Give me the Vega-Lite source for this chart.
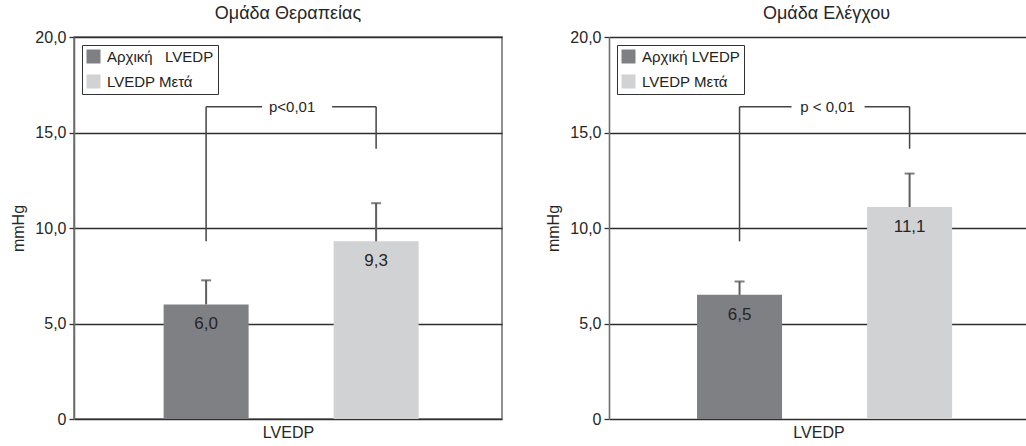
{
  "$schema": "https://vega.github.io/schema/vega-lite/v6.json",
  "background": "white",
  "padding": {"left": 10, "top": 4, "right": 0, "bottom": 2},
  "bounds": "flush",
  "spacing": 107,
  "datasets": {
    "bars": [
      {"panel": "Θεραπεία", "series": "Αρχική LVEDP", "mean": 6.0, "upper": 7.26},
      {"panel": "Θεραπεία", "series": "LVEDP Μετά", "mean": 9.3, "upper": 11.3},
      {"panel": "Έλεγχος", "series": "Αρχική LVEDP", "mean": 6.5, "upper": 7.2},
      {"panel": "Έλεγχος", "series": "LVEDP Μετά", "mean": 11.1, "upper": 12.85}
    ],
    "brackets": [
      {"panel": "Θεραπεία", "from": "Αρχική LVEDP", "to": "LVEDP Μετά", "top": 16.35, "fromLow": 9.3, "toLow": 14.15, "label": "p<0,01"},
      {"panel": "Έλεγχος", "from": "Αρχική LVEDP", "to": "LVEDP Μετά", "top": 16.35, "fromLow": 9.3, "toLow": 14.15, "label": "p < 0,01"}
    ]
  },
  "resolve": {
    "scale": {"color": "independent", "x": "independent", "y": "independent"},
    "legend": {"color": "independent"}
  },
  "hconcat": [
    {
      "width": 428,
      "height": 382,
      "title": "Ομάδα Θεραπείας",
      "view": {"stroke": "#6e6e6e", "strokeWidth": 1.5},
      "layer": [
        {
          "data": {"name": "bars"},
          "transform": [{"filter": "datum.panel === 'Θεραπεία'"}],
          "layer": [
            {
              "mark": {"type": "bar"},
              "encoding": {
                "x": {"field": "series", "type": "nominal", "title": "LVEDP",
                      "scale": {"domain": ["Αρχική LVEDP", "LVEDP Μετά"], "paddingInner": 0.5, "paddingOuter": 0.5088, "align": 0.518}},
                "y": {"field": "mean", "type": "quantitative", "title": "mmHg",
                      "scale": {"domain": [0, 20], "nice": false},
                      "axis": {"values": [0, 5, 10, 15, 20]}},
                "color": {"field": "series", "type": "nominal",
                          "scale": {"domain": ["Αρχική LVEDP", "LVEDP Μετά"], "range": ["#7f8084", "#d1d2d4"]},
                          "legend": {"title": null, "labelExpr": "replace(datum.label, 'Αρχική ', 'Αρχική\u00a0\u00a0\u00a0')"}}
              }
            },
            {
              "mark": {"type": "rule", "color": "#5e5e5e", "strokeWidth": 2},
              "encoding": {
                "x": {"field": "series", "type": "nominal", "title": "LVEDP"},
                "y": {"field": "mean", "type": "quantitative", "title": "mmHg"},
                "y2": {"field": "upper"}
              }
            },
            {
              "mark": {"type": "tick", "color": "#4a4a4a", "thickness": 2, "size": 10, "orient": "horizontal"},
              "encoding": {
                "x": {"field": "series", "type": "nominal", "title": "LVEDP"},
                "y": {"field": "upper", "type": "quantitative", "title": "mmHg"}
              }
            },
            {
              "mark": {"type": "text", "dy": 20, "fontSize": 17, "color": "#262626", "baseline": "middle"},
              "encoding": {
                "x": {"field": "series", "type": "nominal", "title": "LVEDP"},
                "y": {"field": "mean", "type": "quantitative", "title": "mmHg"},
                "text": {"field": "mean", "type": "quantitative", "format": ".1f"}
              }
            }
          ]
        },
        {
          "data": {"name": "brackets"},
          "transform": [{"filter": "datum.panel === 'Θεραπεία'"}],
          "layer": [
            {
              "mark": {"type": "rule", "color": "#444444", "strokeWidth": 1.5},
              "encoding": {
                "x": {"field": "from", "type": "nominal", "title": "LVEDP"},
                "y": {"field": "fromLow", "type": "quantitative", "title": "mmHg"},
                "y2": {"field": "top"}
              }
            },
            {
              "mark": {"type": "rule", "color": "#444444", "strokeWidth": 1.5},
              "encoding": {
                "x": {"field": "to", "type": "nominal", "title": "LVEDP"},
                "y": {"field": "toLow", "type": "quantitative", "title": "mmHg"},
                "y2": {"field": "top"}
              }
            },
            {
              "mark": {"type": "rule", "color": "#444444", "strokeWidth": 1.5, "x2Offset": 56},
              "encoding": {
                "x": {"field": "from", "type": "nominal", "title": "LVEDP"},
                "x2": {"field": "from"},
                "y": {"field": "top", "type": "quantitative", "title": "mmHg"}
              }
            },
            {
              "mark": {"type": "rule", "color": "#444444", "strokeWidth": 1.5, "xOffset": -44},
              "encoding": {
                "x": {"field": "to", "type": "nominal", "title": "LVEDP"},
                "x2": {"field": "to"},
                "y": {"field": "top", "type": "quantitative", "title": "mmHg"}
              }
            },
            {
              "mark": {"type": "text", "dx": 86, "fontSize": 15, "color": "#262626", "baseline": "middle"},
              "encoding": {
                "x": {"field": "from", "type": "nominal", "title": "LVEDP"},
                "y": {"field": "top", "type": "quantitative", "title": "mmHg"},
                "text": {"field": "label"}
              }
            }
          ]
        }
      ]
    },
    {
      "width": 419,
      "height": 382,
      "title": {"text": "Ομάδα Ελέγχου", "dx": 8},
      "view": {"stroke": null},
      "layer": [
        {
          "data": {"name": "bars"},
          "transform": [{"filter": "datum.panel === 'Έλεγχος'"}],
          "layer": [
            {
              "mark": {"type": "bar"},
              "encoding": {
                "x": {"field": "series", "type": "nominal", "title": "LVEDP",
                      "scale": {"domain": ["Αρχική LVEDP", "LVEDP Μετά"], "paddingInner": 0.5, "paddingOuter": 0.482, "align": 0.537}},
                "y": {"field": "mean", "type": "quantitative", "title": "mmHg",
                      "scale": {"domain": [0, 20], "nice": false},
                      "axis": {"values": [0, 5, 10, 15, 20]}},
                "color": {"field": "series", "type": "nominal",
                          "scale": {"domain": ["Αρχική LVEDP", "LVEDP Μετά"], "range": ["#7f8084", "#d1d2d4"]},
                          "legend": {"title": null}}
              }
            },
            {
              "mark": {"type": "rule", "color": "#5e5e5e", "strokeWidth": 2},
              "encoding": {
                "x": {"field": "series", "type": "nominal", "title": "LVEDP"},
                "y": {"field": "mean", "type": "quantitative", "title": "mmHg"},
                "y2": {"field": "upper"}
              }
            },
            {
              "mark": {"type": "tick", "color": "#4a4a4a", "thickness": 2, "size": 10, "orient": "horizontal"},
              "encoding": {
                "x": {"field": "series", "type": "nominal", "title": "LVEDP"},
                "y": {"field": "upper", "type": "quantitative", "title": "mmHg"}
              }
            },
            {
              "mark": {"type": "text", "dy": 20, "fontSize": 17, "color": "#262626", "baseline": "middle"},
              "encoding": {
                "x": {"field": "series", "type": "nominal", "title": "LVEDP"},
                "y": {"field": "mean", "type": "quantitative", "title": "mmHg"},
                "text": {"field": "mean", "type": "quantitative", "format": ".1f"}
              }
            }
          ]
        },
        {
          "data": {"name": "brackets"},
          "transform": [{"filter": "datum.panel === 'Έλεγχος'"}],
          "layer": [
            {
              "mark": {"type": "rule", "color": "#444444", "strokeWidth": 1.5},
              "encoding": {
                "x": {"field": "from", "type": "nominal", "title": "LVEDP"},
                "y": {"field": "fromLow", "type": "quantitative", "title": "mmHg"},
                "y2": {"field": "top"}
              }
            },
            {
              "mark": {"type": "rule", "color": "#444444", "strokeWidth": 1.5},
              "encoding": {
                "x": {"field": "to", "type": "nominal", "title": "LVEDP"},
                "y": {"field": "toLow", "type": "quantitative", "title": "mmHg"},
                "y2": {"field": "top"}
              }
            },
            {
              "mark": {"type": "rule", "color": "#444444", "strokeWidth": 1.5, "x2Offset": 52},
              "encoding": {
                "x": {"field": "from", "type": "nominal", "title": "LVEDP"},
                "x2": {"field": "from"},
                "y": {"field": "top", "type": "quantitative", "title": "mmHg"}
              }
            },
            {
              "mark": {"type": "rule", "color": "#444444", "strokeWidth": 1.5, "xOffset": -45},
              "encoding": {
                "x": {"field": "to", "type": "nominal", "title": "LVEDP"},
                "x2": {"field": "to"},
                "y": {"field": "top", "type": "quantitative", "title": "mmHg"}
              }
            },
            {
              "mark": {"type": "text", "dx": 88, "fontSize": 15, "color": "#262626", "baseline": "middle"},
              "encoding": {
                "x": {"field": "from", "type": "nominal", "title": "LVEDP"},
                "y": {"field": "top", "type": "quantitative", "title": "mmHg"},
                "text": {"field": "label"}
              }
            }
          ]
        }
      ]
    }
  ],
  "config": {
    "font": "Liberation Sans",
    "locale": {"number": {"decimal": ",", "thousands": ".", "grouping": [3], "currency": ["", " €"]}},
    "axis": {
      "labelFont": "Liberation Sans",
      "labelFontSize": 16,
      "labelColor": "#262626",
      "titleFont": "Liberation Sans",
      "titleFontSize": 16,
      "titleFontWeight": "normal",
      "titleColor": "#262626"
    },
    "axisY": {
      "format": ".1f",
      "labelExpr": "datum.value === 0 ? '0' : datum.label",
      "grid": true,
      "gridColor": "#2e2e2e",
      "gridWidth": 1.3,
      "domainColor": "#6e6e6e",
      "domainWidth": 1.6,
      "tickColor": "#333333",
      "tickSize": 5,
      "tickWidth": 1.3,
      "labelPadding": 3,
      "titlePadding": 8
    },
    "axisX": {
      "labels": false,
      "ticks": false,
      "domain": false,
      "grid": false,
      "titlePadding": 5
    },
    "legend": {
      "orient": "top-left",
      "offset": 8,
      "symbolType": "square",
      "symbolSize": 196,
      "symbolStrokeWidth": 0,
      "labelFont": "Liberation Sans",
      "labelFontSize": 15,
      "labelColor": "#222222",
      "labelOffset": 6,
      "labelLimit": 400,
      "padding": 4,
      "rowPadding": 9,
      "strokeColor": "#333333",
      "fillColor": "white"
    },
    "title": {
      "font": "Liberation Sans",
      "fontSize": 18,
      "fontWeight": "normal",
      "color": "#262626",
      "offset": 6
    }
  }
}
